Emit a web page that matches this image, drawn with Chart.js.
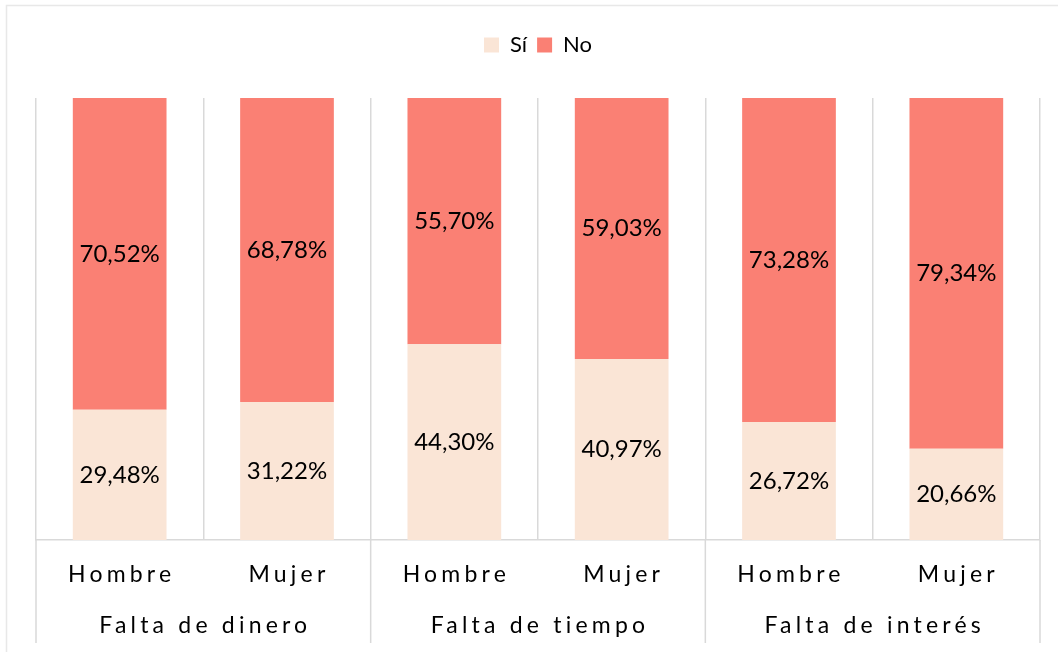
<!DOCTYPE html>
<html>
<head>
<meta charset="utf-8">
<script src="https://cdn.jsdelivr.net/npm/chart.js@4"></script>
<style>
  html, body { margin: 0; padding: 0; background: #fff; }
  #wrap { width: 1058px; height: 652px; }
</style>
</head>
<body>
<div id="wrap"><canvas id="chart" width="1058" height="652"></canvas></div>
<script>
// chart data
const groups = ['Falta de dinero', 'Falta de tiempo', 'Falta de interés'];
const sexes = ['Hombre', 'Mujer'];
const siValues = [29.48, 31.22, 44.30, 40.97, 26.72, 20.66];
const noValues = [70.52, 68.78, 55.70, 59.03, 73.28, 79.34];

const labels = [];
groups.forEach(g => sexes.forEach(s => labels.push(s)));

const FONT = 'Lato, "Open Sans", sans-serif';
const gridColor = '#d9d9d9';

// push the plot area down below the legend
const legendGap = {
  id: 'legendGap',
  beforeInit(chart) {
    const fit = chart.legend.fit;
    chart.legend.fit = function () {
      fit.bind(chart.legend)();
      this.height += 32;
    };
  }
};

// percentage labels centered in each segment
const segmentLabels = {
  id: 'segmentLabels',
  afterDatasetsDraw(chart) {
    const ctx = chart.ctx;
    ctx.save();
    ctx.font = '24px ' + FONT;
    ctx.fillStyle = '#000';
    ctx.textAlign = 'center';
    ctx.textBaseline = 'middle';
    chart.data.datasets.forEach((ds, i) => {
      chart.getDatasetMeta(i).data.forEach((bar, j) => {
        const txt = ds.data[j].toFixed(2).replace('.', ',') + '%';
        ctx.fillText(txt, bar.x, (bar.y + bar.base) / 2);
      });
    });
    ctx.restore();
  }
};

// two level category axis + frame
const groupAxis = {
  id: 'groupAxis',
  afterDraw(chart) {
    const ctx = chart.ctx;
    const xs = chart.scales.x;
    const area = chart.chartArea;
    const step = (area.right - area.left) / labels.length;
    ctx.save();

    // outer frame (top + left)
    ctx.strokeStyle = '#e8e8e8';
    ctx.lineWidth = 1.5;
    ctx.beginPath();
    ctx.moveTo(6.5, 660);
    ctx.lineTo(6.5, 5.5);
    ctx.lineTo(1060, 5.5);
    ctx.stroke();

    // group separators running down through the labels
    ctx.strokeStyle = gridColor;
    ctx.lineWidth = 1.5;
    for (let g = 0; g <= groups.length; g++) {
      const x = area.left + g * step * sexes.length;
      ctx.beginPath();
      ctx.moveTo(x, area.bottom);
      ctx.lineTo(x, area.bottom + 103);
      ctx.stroke();
    }

    ctx.fillStyle = '#000';
    ctx.textAlign = 'center';
    ctx.textBaseline = 'middle';
    ctx.font = '23px ' + FONT;
    ctx.letterSpacing = '4.2px';
    labels.forEach((lab, i) => {
      ctx.fillText(lab, xs.getPixelForValue(i) + 2, area.bottom + 35);
    });
    groups.forEach((g, i) => {
      const x = area.left + (i + 0.5) * step * sexes.length;
      ctx.fillText(g, x + 2, area.bottom + 86);
    });
    ctx.restore();
  }
};

new Chart(document.getElementById('chart'), {
  type: 'bar',
  data: {
    labels: labels,
    datasets: [
      { label: 'Sí', data: siValues, backgroundColor: 'rgb(250, 229, 214)', barPercentage: 0.56, categoryPercentage: 1 },
      { label: 'No', data: noValues, backgroundColor: 'rgb(250, 128, 116)', barPercentage: 0.56, categoryPercentage: 1 }
    ]
  },
  options: {
    responsive: false,
    animation: false,
    layout: { padding: { top: 24, left: 36, right: 18, bottom: 112 } },
    scales: {
      x: {
        stacked: true,
        grid: { color: gridColor, lineWidth: 1.5, drawTicks: false, offset: true },
        border: { color: gridColor, width: 1.5 },
        ticks: { display: false }
      },
      y: {
        stacked: true,
        display: false,
        min: 0,
        max: 100
      }
    },
    plugins: {
      legend: {
        position: 'top',
        labels: {
          boxWidth: 15,
          boxHeight: 15,
          padding: 10,
          color: '#000',
          font: { family: FONT, size: 22 }
        }
      },
      tooltip: { enabled: false }
    }
  },
  plugins: [legendGap, segmentLabels, groupAxis]
});
</script>
</body>
</html>
